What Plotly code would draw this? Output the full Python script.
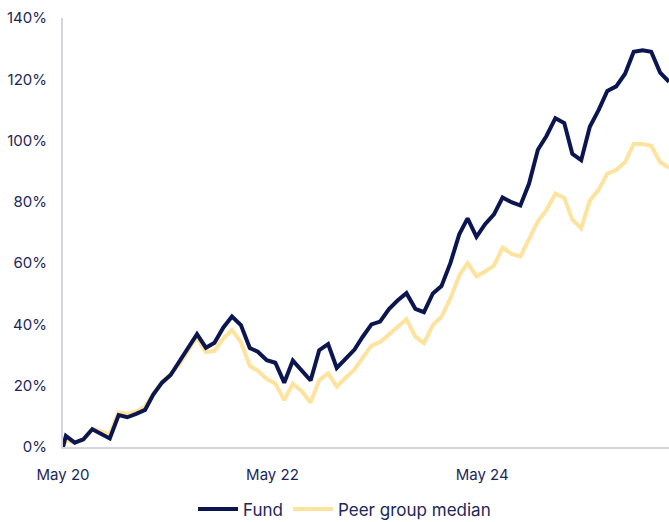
import plotly.graph_objects as go
import pandas as pd

start_date = "2020-05-01"
first_month = "2020-05-11"
n_months = 70

fund = [0, 3.6, 1.4, 2.5, 5.8, 4.3, 2.8, 10.4, 9.7, 10.8, 12.1, 17.0, 21.0, 23.5, 28.0,
        32.3, 36.8, 32.4, 34.0, 39.0, 42.6, 39.8, 32.3, 31.1, 28.3, 27.5, 21.0, 28.2,
        25.1, 21.7, 31.6, 33.6, 25.8, 28.7, 31.8, 35.9, 40.0, 40.9, 45.0, 47.8, 50.2,
        45.1, 44.0, 50.1, 52.5, 60.0, 69.4, 74.6, 68.6, 72.7, 75.9, 81.4, 79.9, 78.8,
        85.9, 97.0, 101.5, 107.3, 105.7, 95.7, 93.6, 104.5, 110.0, 116.2, 117.7, 121.8,
        129.0, 129.5, 129.0, 122.2, 119.2]

peer = [0, 2.3, 1.4, 2.3, 6.0, 5.1, 4.2, 11.3, 10.8, 11.6, 13.2, 17.3, 21.3, 23.8, 27.0,
        31.5, 35.7, 31.0, 31.4, 35.5, 38.2, 34.2, 26.5, 24.9, 22.2, 20.7, 15.3, 20.7,
        18.2, 14.5, 21.8, 24.0, 19.7, 22.6, 25.3, 29.1, 33.1, 34.2, 36.8, 39.5, 41.7,
        36.0, 33.9, 39.8, 42.5, 48.5, 55.9, 60.0, 55.7, 57.3, 59.2, 65.1, 63.0, 62.2,
        67.8, 73.6, 77.4, 82.7, 81.3, 74.2, 71.4, 80.4, 84.0, 89.2, 90.4, 93.0, 98.9,
        98.9, 98.3, 93.0, 91.1]

dates = [pd.Timestamp(start_date)] + list(pd.date_range(first_month, periods=n_months, freq=pd.DateOffset(months=1)))

y_ticks = [0, 20, 40, 60, 80, 100, 120, 140]
y_ticklabels = [f"{v}%" for v in y_ticks]

NAVY = "#0b1650"
YELLOW = "#fde39d"
TEXT = "#1d2657"
FONT = "Inter"

fig = go.Figure()
fig.add_trace(go.Scatter(x=dates, y=peer, mode="lines", name="Peer group median",
                         line=dict(color=YELLOW, width=4)))
fig.add_trace(go.Scatter(x=dates, y=fund, mode="lines", name="Fund",
                         line=dict(color=NAVY, width=4)))

fig.update_layout(
    width=669, height=522,
    margin=dict(l=63, r=0, t=18, b=75, autoexpand=False),
    paper_bgcolor="white", plot_bgcolor="white",
    font=dict(family=FONT, color=TEXT, size=15),
    showlegend=True,
    legend=dict(orientation="h", xref="container", yref="container",
                x=0.515, xanchor="center", y=0.024, yanchor="middle",
                font=dict(size=17, color=TEXT), traceorder="reversed",
                itemwidth=40),
    xaxis=dict(type="date", range=[dates[0], dates[-1]], automargin=False,
               tick0="2020-05-01", dtick="M24", tickformat="%b %y",
               showgrid=False, zeroline=False, showline=True,
               linecolor="#d3d6e2", linewidth=2,
               ticks="", ticklabelstandoff=13,
               tickfont=dict(size=15, color=TEXT)),
    yaxis=dict(range=[0, 140], tickvals=y_ticks, ticktext=y_ticklabels, automargin=False,
               showgrid=False, zeroline=False, showline=True,
               linecolor="#d3d6e2", linewidth=2,
               ticks="", ticklabelstandoff=11,
               tickfont=dict(size=15, color=TEXT)),
)

fig.write_html("out.html", config={"displayModeBar": False},
               post_script="document.body.style.margin='0';document.body.style.overflow='hidden';")
